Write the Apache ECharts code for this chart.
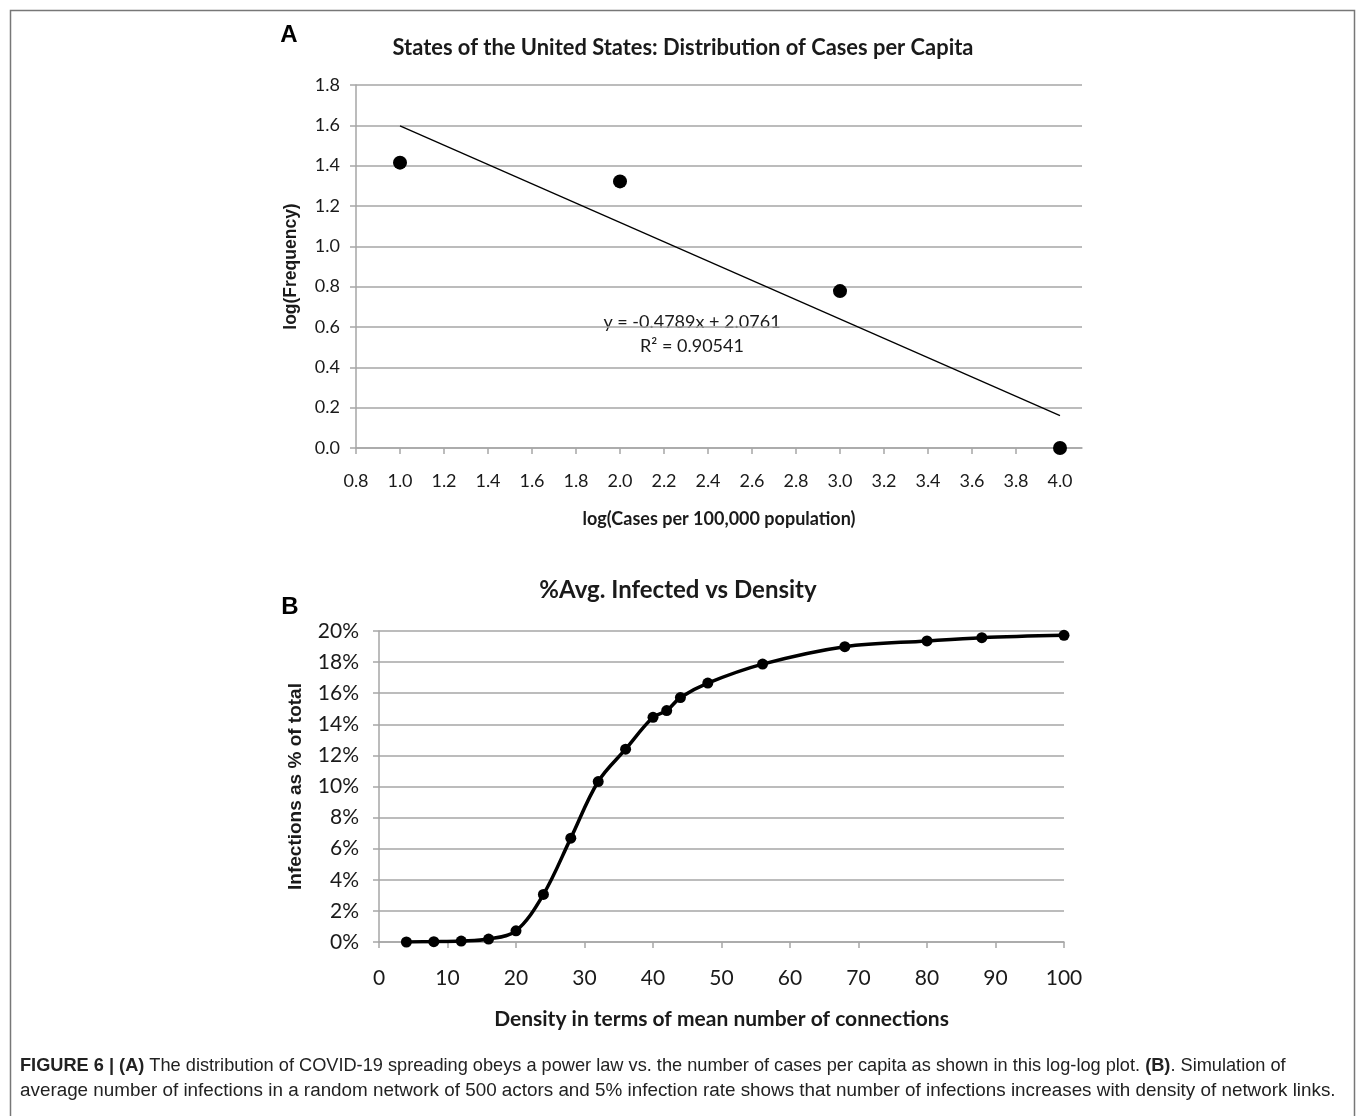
<!DOCTYPE html>
<html>
<head>
<meta charset="utf-8">
<script src="https://cdn.jsdelivr.net/npm/echarts@6/dist/echarts.min.js"></script>
<style>
html,body{margin:0;padding:0;background:#fff;}
#c{width:1356px;height:1116px;}
</style>
</head>
<body>
<div id="c"></div>
<script>
// ---- Panel A data ----
const aX = [1.0, 2.0, 3.0, 4.0];
const aY = [1.415, 1.322, 0.778, 0.0];
const aTrendX = [1.0, 4.0];
const aTrendY = [1.597, 0.161];
const aXTicks = [0.8,1.0,1.2,1.4,1.6,1.8,2.0,2.2,2.4,2.6,2.8,3.0,3.2,3.4,3.6,3.8,4.0];
const aYTicks = [0,0.2,0.4,0.6,0.8,1.0,1.2,1.4,1.6,1.8];
const aEquation = 'y = -0.4789x + 2.0761';
const aR2 = 'R² = 0.90541';

// ---- Panel B data ----
const bX = [4, 8, 12, 16, 20, 24, 28, 32, 36, 40, 42, 44, 48, 56, 68, 80, 88, 100];
const bY = [0.0, 0.02, 0.06, 0.19, 0.72, 3.06, 6.68, 10.32, 12.4, 14.45, 14.88, 15.72, 16.65, 17.87, 18.99, 19.36, 19.57, 19.72];
const bXTicks = [0,10,20,30,40,50,60,70,80,90,100];
const bYTicks = [0,2,4,6,8,10,12,14,16,18,20];

const narrow = "Lato,'Open Sans',sans-serif";
const grid = '#a6a6a6';
const txt = '#1a1a1a';

const chart = echarts.init(document.getElementById('c'), null, {renderer:'canvas'});

const option = {
  backgroundColor: '#fff',
  animation: false,
  grid: [
    {left: 356, top: 85, width: 726, height: 363},
    {left: 379, top: 631, width: 685, height: 311}
  ],
  xAxis: [
    {
      gridIndex: 0, type: 'value', min: 0.8, max: 4.1,
      axisLine: {show: true, lineStyle: {color: grid, width: 1.5}},
      axisTick: {show: true, length: 6, lineStyle: {color: grid, width: 1.5}, customValues: aXTicks},
      axisLabel: {customValues: aXTicks, formatter: v => v.toFixed(1), fontFamily: narrow, fontSize: 18, color: txt, margin: 24},
      splitLine: {show: false},
      name: 'log(Cases per 100,000 population)', nameLocation: 'middle', nameGap: 62,
      nameTextStyle: {fontFamily: narrow, fontWeight: 'bold', fontSize: 18, color: txt}
    },
    {
      gridIndex: 1, type: 'value', min: 0, max: 100, interval: 10,
      axisLine: {show: true, lineStyle: {color: grid, width: 1.5}},
      axisTick: {show: true, length: 6, lineStyle: {color: grid, width: 1.5}, customValues: bXTicks},
      axisLabel: {customValues: bXTicks, fontFamily: narrow, fontSize: 21, color: txt, margin: 26},
      splitLine: {show: false},
      name: 'Density in terms of mean number of connections', nameLocation: 'middle', nameGap: 67,
      nameTextStyle: {fontFamily: narrow, fontWeight: 'bold', fontSize: 21, color: txt}
    }
  ],
  yAxis: [
    {
      gridIndex: 0, type: 'value', min: 0, max: 1.8, interval: 0.2,
      axisLine: {show: true, lineStyle: {color: grid, width: 1.5}},
      axisTick: {show: true, length: 6, lineStyle: {color: grid, width: 1.5}, customValues: aYTicks},
      axisLabel: {customValues: aYTicks, formatter: v => v.toFixed(1), fontFamily: narrow, fontSize: 18, color: txt, margin: 16},
      splitLine: {show: true, lineStyle: {color: grid, width: 1.5}},
      name: 'log(Frequency)', nameLocation: 'middle', nameGap: 56,
      nameTextStyle: {fontFamily: "'Liberation Sans',Arial,sans-serif", fontWeight: 'bold', fontSize: 17.5, color: txt}
    },
    {
      gridIndex: 1, type: 'value', min: 0, max: 20, interval: 2,
      axisLine: {show: true, lineStyle: {color: grid, width: 1.5}},
      axisTick: {show: true, length: 6, lineStyle: {color: grid, width: 1.5}, customValues: bYTicks},
      axisLabel: {customValues: bYTicks, formatter: v => v + '%', fontFamily: narrow, fontSize: 21, color: txt, margin: 20},
      splitLine: {show: true, lineStyle: {color: grid, width: 1.5}},
      name: 'Infections as % of total', nameLocation: 'middle', nameGap: 74,
      nameTextStyle: {fontFamily: "'Liberation Sans',Arial,sans-serif", fontWeight: 'bold', fontSize: 19, color: txt}
    }
  ],
  series: [
    {
      type: 'line', xAxisIndex: 0, yAxisIndex: 0,
      data: aTrendX.map((x, i) => [x, aTrendY[i]]),
      showSymbol: false, symbol: 'none',
      lineStyle: {color: '#000', width: 1.3}, z: 2
    },
    {
      type: 'scatter', xAxisIndex: 0, yAxisIndex: 0,
      data: aX.map((x, i) => [x, aY[i]]),
      symbol: 'circle', symbolSize: 14,
      itemStyle: {color: '#000', opacity: 1}, z: 3
    },
    {
      type: 'line', xAxisIndex: 1, yAxisIndex: 1,
      data: bX.map((x, i) => [x, bY[i]]),
      smooth: 0.35,
      symbol: 'circle', symbolSize: 11, showSymbol: true,
      lineStyle: {color: '#000', width: 3.5},
      itemStyle: {color: '#000', opacity: 1}, z: 3
    }
  ],
  graphic: [
    {type: 'rect', left: 8, top: 8, shape: {width: 1344, height: 1140}, style: {fill: 'none', stroke: '#777', lineWidth: 1.5}, silent: true},
    {type: 'text', x: 289, y: 35, style: {text: 'A', font: "bold 24px 'Liberation Sans',Arial,sans-serif", fill: '#000', align: 'center', verticalAlign: 'middle'}},
    {type: 'text', x: 290, y: 607, style: {text: 'B', font: "bold 24px 'Liberation Sans',Arial,sans-serif", fill: '#000', align: 'center', verticalAlign: 'middle'}},
    {type: 'text', x: 683, y: 48, style: {text: 'States of the United States: Distribution of Cases per Capita', font: "bold 21.9px " + narrow, fill: txt, align: 'center', verticalAlign: 'middle'}},
    {type: 'text', x: 678, y: 590, style: {text: '%Avg. Infected vs Density', font: "bold 24px " + narrow, fill: txt, align: 'center', verticalAlign: 'middle'}},
    {type: 'text', x: 692, y: 322, style: {text: aEquation, font: "18px " + narrow, fill: txt, align: 'center', verticalAlign: 'middle'}},
    {type: 'text', x: 692, y: 346, style: {text: aR2, font: "18px " + narrow, fill: txt, align: 'center', verticalAlign: 'middle'}},
    {type: 'text', x: 20, y: 1066, style: {
      text: '{b|FIGURE 6 | (A)} The distribution of COVID-19 spreading obeys a power law vs. the number of cases per capita as shown in this log-log plot. {b|(B)}. Simulation of',
      font: "18.2px 'Liberation Sans',Arial,sans-serif", fill: '#222', verticalAlign: 'middle',
      rich: {b: {fontWeight: 'bold', fontSize: 18.2, fontFamily: "'Liberation Sans',Arial,sans-serif", fill: '#222'}}
    }},
    {type: 'text', x: 20, y: 1091, style: {
      text: 'average number of infections in a random network of 500 actors and 5% infection rate shows that number of infections increases with density of network links.',
      font: "18.85px 'Liberation Sans',Arial,sans-serif", fill: '#222', verticalAlign: 'middle'
    }}
  ]
};
chart.setOption(option);
</script>
</body>
</html>
